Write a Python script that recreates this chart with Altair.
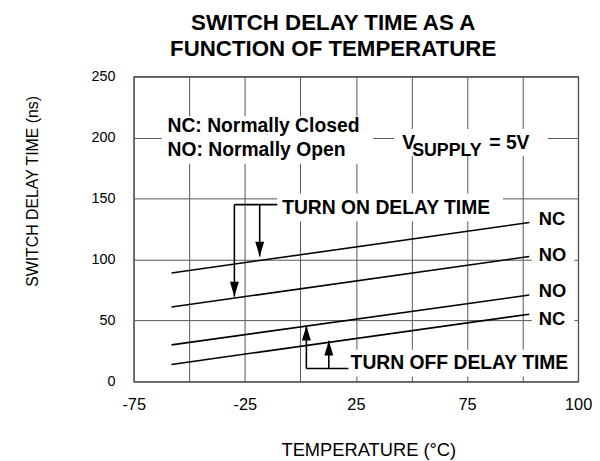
import altair as alt
import pandas as pd

FONT = "Liberation Sans, Arial, Helvetica, sans-serif"

# ---- curves: temperature (°C) vs switch delay (ns) ----
series_names = ["NC turn-on", "NO turn-on", "NO turn-off", "NC turn-off"]
temps = [-58, 103]
nc_on = [89.0, 130.4]
no_on = [61.1, 102.5]
no_off = [30.0, 70.9]
nc_off = [14.0, 55.2]

# ---- axes ----
x_ticks = [-75, -50, -25, 0, 25, 50, 75, 100, 125]
x_tick_labels = ["-75", "", "-25", "", "25", "", "75", "", "100"]
y_ticks = [0, 50, 100, 150, 200, 250]

# ---- curve end labels ----
end_labels = ["NC", "NO", "NO", "NC"]
end_label_x = [107.3, 107.3, 107.3, 107.3]
end_label_y = [128.2, 99.0, 69.6, 46.3]

# ---- notes ----
note_text = ["NC: Normally Closed", "NO: Normally Open"]
note_x = [-59.8, -59.8]
note_y = [204.8, 185.1]

supply_main_text = ["V", "= 5V"]
supply_main_x = [45.8, 85.0]
supply_main_y = [190.5, 190.5]
supply_sub_text = ["SUPPLY"]
supply_sub_x = [50.3]
supply_sub_y = [185.1]

delay_text = ["TURN ON DELAY TIME", "TURN OFF DELAY TIME"]
delay_x = [-8.2, 22.6]
delay_y = [137.2, 10.0]

# ---- bracket arrows (segments and arrow tips) ----
seg_x0 = [-29.7, -29.7, -18.3, 2.7, 2.7, 12.8]
seg_x1 = [-10.4, -29.7, -18.3, 21.6, 2.7, 12.8]
seg_y0 = [145.0, 145.0, 145.0, 10.6, 10.6, 10.6]
seg_y1 = [145.0, 69.6, 102.5, 10.6, 45.7, 33.5]
tip_down_x = [-29.7, -18.3]
tip_down_y = [69.6, 102.5]
tip_up_x = [2.7, 12.8]
tip_up_y = [45.7, 33.5]

# ---- white backgrounds behind the annotation text ----
mask_x0 = [-62.5, 42.2, -10.4, 21.7, 104.1]
mask_x1 = [32.8, 111.3, 91.2, 121.5, 123.3]
mask_y0 = [178.6, 185.1, 131.5, 4.1, 41.4]
mask_y1 = [217.5, 207.0, 154.2, 26.0, 142.9]

# ---------------------------------------------------------------------------
rows = []
for name, vals in zip(series_names, [nc_on, no_on, no_off, nc_off]):
    for t, v in zip(temps, vals):
        rows.append({"series": name, "t": t, "v": v})
lines_df = pd.DataFrame(rows)

label_expr = " : ".join(
    f"datum.value == {v} ? '{s}'" for v, s in zip(x_ticks, x_tick_labels)
) + " : ''"

xscale = alt.Scale(domain=[-75, 125], nice=False, zero=False)
yscale = alt.Scale(domain=[0, 250], nice=False, zero=False)

xaxis = alt.Axis(
    values=x_ticks, labelExpr=label_expr, labelFlush=False, labelOverlap=False,
    labelFontSize=16.5, labelPadding=15, labelColor="#000",
    title="TEMPERATURE (°C)", titleFontSize=18.5, titleFontWeight="normal",
    titleX=237, titleY=75, titleBaseline="alphabetic", titleColor="#000",
)
yaxis = alt.Axis(
    values=y_ticks, labelFontSize=14.5, labelPadding=19, labelColor="#000",
    title="SWITCH DELAY TIME (ns)", titleFontSize=16, titleFontWeight="normal",
    titleX=-97, titleY=115.5, titleAngle=-90, titleBaseline="alphabetic",
    titleAlign="center", titleColor="#000",
)


def X(f):
    return alt.X(f, type="quantitative", scale=xscale, axis=xaxis)


def Y(f):
    return alt.Y(f, type="quantitative", scale=yscale, axis=yaxis)


masks = alt.Chart(pd.DataFrame({"x0": mask_x0, "x1": mask_x1, "y0": mask_y0, "y1": mask_y1})).mark_rect(
    fill="white", opacity=1
).encode(x=X("x0"), x2="x1", y=Y("y0"), y2="y1")

lines = alt.Chart(lines_df).mark_line(color="black", strokeWidth=1.6).encode(
    x=X("t"), y=Y("v"), detail="series:N"
)

segs = alt.Chart(pd.DataFrame({"x0": seg_x0, "x1": seg_x1, "y0": seg_y0, "y1": seg_y1})).mark_rule(
    color="black", strokeWidth=1.6
).encode(x=X("x0"), x2="x1", y=Y("y0"), y2="y1")

heads_down = alt.Chart(pd.DataFrame({"x": tip_down_x, "y": tip_down_y})).mark_point(
    shape="M-0.6,-2L0.6,-2L0,0Z", size=225, filled=True, color="black", opacity=1, strokeWidth=0
).encode(x=X("x"), y=Y("y"))

heads_up = alt.Chart(pd.DataFrame({"x": tip_up_x, "y": tip_up_y})).mark_point(
    shape="M-0.6,2L0.6,2L0,0Z", size=225, filled=True, color="black", opacity=1, strokeWidth=0
).encode(x=X("x"), y=Y("y"))


def texts(xs, ys, ts, size):
    return alt.Chart(pd.DataFrame({"x": xs, "y": ys, "t": ts})).mark_text(
        align="left", baseline="alphabetic", font=FONT, fontWeight="bold",
        fontSize=size, color="black"
    ).encode(x=X("x"), y=Y("y"), text="t:N")


chart = alt.layer(
    masks,
    lines,
    segs,
    heads_down,
    heads_up,
    texts(end_label_x, end_label_y, end_labels, 18.5),
    texts(note_x, note_y, note_text, 19.5),
    texts(supply_main_x, supply_main_y, supply_main_text, 19.5),
    texts(supply_sub_x, supply_sub_y, supply_sub_text, 18),
    texts(delay_x, delay_y, delay_text, 19.5),
).properties(
    width=449,
    height=308,
    autosize=alt.AutoSizeParams(type="none"),
    padding={"left": 127, "top": 67, "right": 14, "bottom": 78},
    title=alt.TitleParams(
        text=["SWITCH DELAY TIME AS A", "FUNCTION OF TEMPERATURE"],
        font=FONT, fontSize=22.5, fontWeight="bold", color="black",
        lineHeight=27, anchor="middle", baseline="bottom", offset=15, dx=-23, dy=30,
    ),
).configure_view(
    stroke="#333", strokeWidth=1.2
).configure_axis(
    domain=False, ticks=False, grid=True, gridColor="#555", gridWidth=1,
    labelFont=FONT, titleFont=FONT,
)

chart.save("out.html", embed_options={"renderer": "svg", "actions": False})
